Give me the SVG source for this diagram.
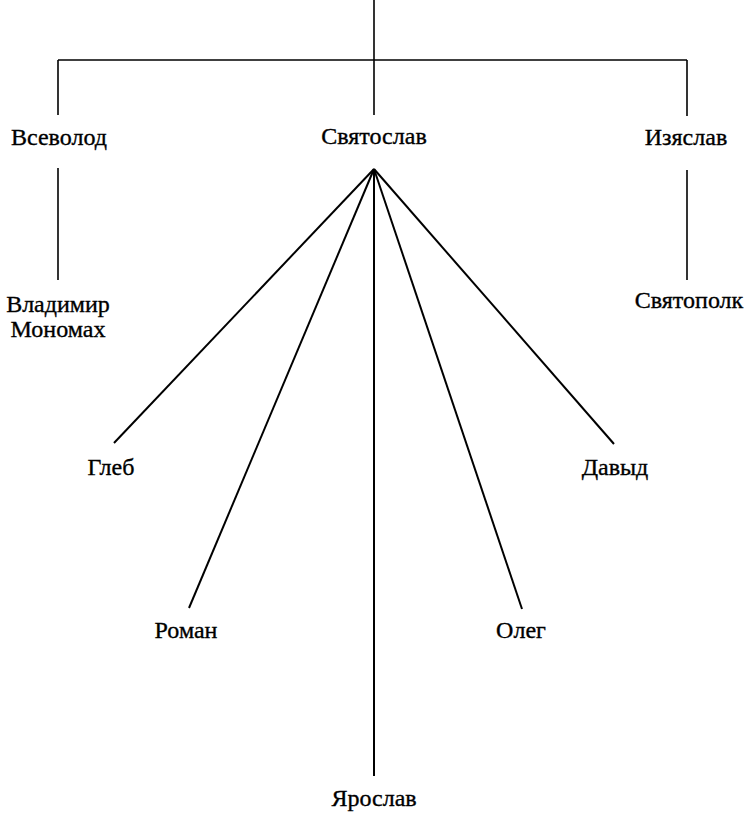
<svg xmlns="http://www.w3.org/2000/svg" width="748" height="815" viewBox="0 0 748 815">
<style>
text{font-family:"Liberation Serif","Times New Roman",serif;font-size:24px;fill:#000;stroke:#000;stroke-width:0.35;text-anchor:middle}
.c line{stroke:#000;stroke-width:1.6;fill:none}
.c .f{stroke-width:2}
</style>
<rect width="748" height="815" fill="#fff"/>
<g class="c" id="connectors">
<line x1="374" y1="0" x2="374" y2="60"/>
<line x1="58" y1="60" x2="687" y2="60"/>
<line x1="58" y1="60" x2="58" y2="115"/>
<line x1="374" y1="60" x2="374" y2="115"/>
<line x1="687" y1="60" x2="687" y2="116"/>
<line x1="58" y1="168" x2="58" y2="280"/>
<line x1="687" y1="170" x2="687" y2="280"/>
<line class="f" x1="374" y1="169" x2="114" y2="443"/>
<line class="f" x1="374" y1="169" x2="189" y2="608"/>
<line class="f" x1="374" y1="169" x2="374" y2="776"/>
<line class="f" x1="374" y1="169" x2="522" y2="609"/>
<line class="f" x1="374" y1="169" x2="614" y2="444"/>
</g>
<g id="vsevolod"><text x="59" y="145">Всеволод</text></g>
<g id="svyatoslav"><text x="374" y="144">Святослав</text></g>
<g id="izyaslav"><text x="686" y="145">Изяслав</text></g>
<g id="vladimir"><text x="58" y="312">Владимир</text><text x="58" y="337">Мономах</text></g>
<g id="svyatopolk"><text x="689" y="308">Святополк</text></g>
<g id="gleb"><text x="111" y="475">Глеб</text></g>
<g id="david"><text x="615" y="475">Давыд</text></g>
<g id="roman"><text x="186" y="638">Роман</text></g>
<g id="oleg"><text x="521" y="638">Олег</text></g>
<g id="yaroslav"><text x="374" y="806">Ярослав</text></g>
</svg>
